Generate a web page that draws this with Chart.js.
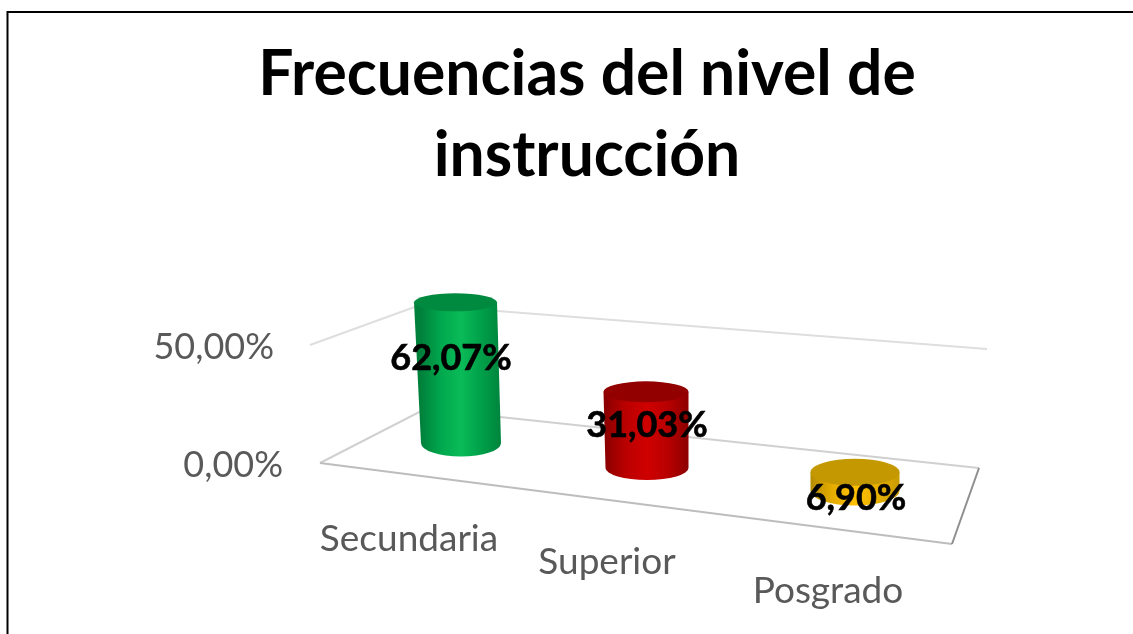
<!DOCTYPE html>
<html>
<head>
<meta charset="utf-8">
<script src="https://cdn.jsdelivr.net/npm/chart.js@4"></script>
<style>
    body { margin: 0; background: #ffffff; overflow: hidden; }
    canvas { display: block; }
</style>
</head>
<body>
<canvas id="chart" width="1133" height="634"></canvas>
<script>
const titleLines = ["Frecuencias del nivel de", "instrucción"];
const categories = ["Secundaria", "Superior", "Posgrado"];
const values = [62.07, 31.03, 6.90];
const tickValues = [0, 50];

// the fake 3D view, one entry per category
const baseShiftX = [11, -3, 5];
const baseShiftY = [-22, 3, 26];
const topShiftX = [-5.5, -1, 0];
const depthScale = [0.96, 1.04, 1.15];
const topRx = [41.5, 42.5, 44.5];
const baseRx = [40, 41.5, 44.5];
const topRy = [9, 10.5, 13.5];
const baseRy = [13.5, 12, 14.5];
const labelShift = [[1, -107], [-3, -40], [6, 33]];
const sideColors = [["#00813b", "#00a84d", "#0abb58", "#00a049", "#00843d"], ["#8c0000", "#bb0000", "#cf0000", "#b80000", "#8c0000"], ["#b58c00", "#e6ad00", "#ffc000", "#e8b000", "#c79a00"]];
const capColors = ["#008a40", "#930000", "#c49800"];

const axisLabelShift = [[-41, 44], [-43, 67], [-22, 96]];
const valueLabelShift = [9, 0];

function percent(v)
{
    return v.toFixed(2).replace(".", ",") + "%";
}

class CylinderController extends Chart.BarController
{
    draw()
    {
        const ctx = this.chart.ctx;
        const bars = this._cachedMeta.data;

        bars.forEach((bar, i) =>
        {
            const bx = bar.x + baseShiftX[i];
            const by = bar.base + baseShiftY[i];
            const tx = bx + topShiftX[i];
            const ty = by - (bar.base - bar.y) * depthScale[i];

            const grad = ctx.createLinearGradient(bx - baseRx[i], 0, bx + baseRx[i], 0);
            sideColors[i].forEach((c, s) => grad.addColorStop(s / 4, c));

            ctx.save();
            ctx.fillStyle = grad;
            ctx.beginPath();
            ctx.moveTo(tx - topRx[i], ty);
            ctx.lineTo(bx - baseRx[i], by);
            ctx.ellipse(bx, by, baseRx[i], baseRy[i], 0, Math.PI, 0, true);
            ctx.lineTo(tx + topRx[i], ty);
            ctx.closePath();
            ctx.fill();

            ctx.fillStyle = capColors[i];
            ctx.beginPath();
            ctx.ellipse(tx, ty, topRx[i], topRy[i], 0, 0, Math.PI * 2);
            ctx.fill();
            ctx.restore();
        });

        ctx.save();
        ctx.font = "bold 36px Lato";
        ctx.fillStyle = "#000000";
        ctx.strokeStyle = "#000000";
        ctx.lineWidth = 0.6;
        ctx.textAlign = "center";
        ctx.textBaseline = "middle";
        bars.forEach((bar, i) =>
        {
            const lx = bar.x + labelShift[i][0];
            const ly = bar.base + labelShift[i][1];
            ctx.fillText(percent(values[i]), lx, ly);
            ctx.strokeText(percent(values[i]), lx, ly);
        });
        ctx.restore();
    }
}
CylinderController.id = "cylinder";
CylinderController.defaults = Chart.BarController.defaults;
CylinderController.overrides = Chart.BarController.overrides;
Chart.register(CylinderController);

const view3d =
{
    id: "view3d",
    beforeDraw(chart)
    {
        // slide the axis labels onto the tilted floor
        chart.scales.x.getLabelItems(chart.chartArea).forEach((item, i) =>
        {
            if(item.moved) return;
            item.options.translation[0] += axisLabelShift[i][0];
            item.options.translation[1] += axisLabelShift[i][1];
            item.moved = true;
        });
        chart.scales.y.getLabelItems(chart.chartArea).forEach((item, i) =>
        {
            if(item.moved) return;
            item.options.translation[0] += valueLabelShift[i];
            item.moved = true;
        });
        // the y axis box is narrower than its labels, don't cut them
        chart.scales.y._computeLabelArea = () => undefined;

        const ctx = chart.ctx;
        ctx.save();
        ctx.strokeStyle = "#000000";
        ctx.lineWidth = 2;
        ctx.beginPath();
        ctx.moveTo(7.5, 634);
        ctx.lineTo(7.5, 12);
        ctx.lineTo(1133, 12);
        ctx.stroke();
        ctx.restore();
    },
    beforeDatasetsDraw(chart)
    {
        const ctx = chart.ctx;
        const y0 = chart.scales.y.getPixelForValue(tickValues[0]);
        const y50 = chart.scales.y.getPixelForValue(tickValues[1]);

        const path = (color, pts) =>
        {
            ctx.strokeStyle = color;
            ctx.beginPath();
            pts.forEach((p, i) => i ? ctx.lineTo(p[0], p[1]) : ctx.moveTo(p[0], p[1]));
            ctx.stroke();
        };

        ctx.save();
        ctx.lineWidth = 2;
        path("#dedede", [[310, y50 - 2], [420, y50 - 42], [987, y50 + 2]]);
        path("#d0d0d0", [[320, y0 - 2], [425, y0 - 56], [979, y0 + 3]]);
        path("#bdbdbd", [[320, y0 - 2], [952, y0 + 79]]);
        path("#8f8f8f", [[952, y0 + 79], [979, y0 + 3]]);
        ctx.restore();
    }
};

new Chart(document.getElementById("chart"),
{
    type: "cylinder",
    data:
    {
        labels: categories,
        datasets:
        [{
            label: "Frecuencias",
            data: values,
            backgroundColor: capColors,
            clip: false,
            barPercentage: 0.42,
            categoryPercentage: 1
        }]
    },
    plugins: [view3d],
    options:
    {
        responsive: false,
        animation: false,
        layout: { padding: { left: 224, right: 183, top: 0, bottom: 0 } },
        plugins:
        {
            legend: { display: false },
            tooltip: { enabled: false },
            title:
            {
                display: true,
                text: titleLines,
                color: "#000000",
                font: { family: "Lato", weight: "bold", size: 62.4, lineHeight: 81 / 62.4 },
                padding: { top: 34, bottom: 151 }
            }
        },
        scales:
        {
            x:
            {
                grid: { display: false },
                border: { display: false },
                ticks:
                {
                    color: "#595959",
                    padding: 0,
                    autoSkip: false,
                    maxRotation: 0,
                    font: { family: "Lato", size: 37 }
                },
                afterFit(scale) { scale.height = 169; }
            },
            y:
            {
                min: 0,
                max: 50,
                grid: { display: false },
                border: { display: false },
                afterBuildTicks(scale) { scale.ticks = tickValues.map(v => ({ value: v })); },
                ticks:
                {
                    color: "#595959",
                    padding: 68,
                    callback: v => percent(v),
                    font: { family: "Lato", size: 36 }
                },
                afterFit(scale) { scale.width = 126; }
            }
        }
    }
});
</script>
</body>
</html>
